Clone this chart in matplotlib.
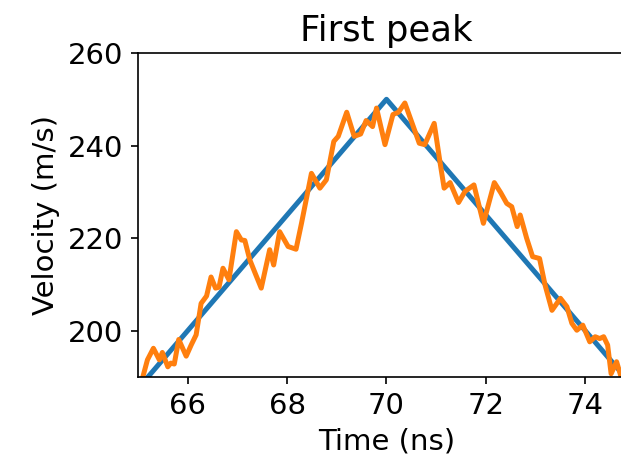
import matplotlib
matplotlib.use("Agg")
import matplotlib.pyplot as plt
import numpy as np

# model: linear ramp up to the peak and back down
peak_time = 70.0
peak_velocity = 250.0
ramp_slope = 12.5  # m/s per ns
model_t = [65.0, peak_time, 75.0]
model_v = [peak_velocity - ramp_slope * abs(t - peak_time) for t in model_t]

# measured trace
meas_t = [65.10, 65.19, 65.31, 65.43, 65.49, 65.60, 65.66, 65.73, 65.82, 65.97,
          66.07, 66.17, 66.27, 66.38, 66.47, 66.56, 66.63, 66.71, 66.83, 66.98,
          67.08, 67.15, 67.25, 67.37, 67.48, 67.65, 67.73, 67.85, 68.02, 68.18,
          68.29, 68.49, 68.66, 68.79, 68.94, 69.03, 69.20, 69.35, 69.48, 69.59,
          69.72, 69.80, 69.97, 70.13, 70.24, 70.37, 70.54, 70.66, 70.77, 70.96,
          71.08, 71.16, 71.28, 71.45, 71.58, 71.76, 71.95, 72.17, 72.30, 72.42,
          72.52, 72.63, 72.69, 72.82, 72.94, 73.08, 73.19, 73.33, 73.50, 73.63,
          73.73, 73.83, 73.95, 74.09, 74.20, 74.29, 74.37, 74.45, 74.52, 74.63,
          74.71, 74.80]
meas_v = [190.1, 193.7, 196.2, 193.7, 195.3, 192.2, 193.0, 192.8, 198.1, 194.5,
          196.9, 199.1, 205.9, 207.5, 211.6, 209.2, 209.4, 213.5, 211.0, 221.4,
          219.6, 219.5, 215.3, 212.1, 209.2, 217.5, 214.2, 221.4, 218.2, 217.6,
          223.2, 234.0, 230.8, 232.6, 240.9, 242.0, 247.2, 242.0, 242.5, 245.4,
          244.1, 248.1, 240.2, 246.7, 247.2, 249.2, 244.1, 240.5, 240.2, 244.8,
          236.2, 230.8, 232.0, 227.7, 230.1, 231.5, 223.2, 232.0, 229.8, 227.5,
          226.8, 222.5, 225.0, 220.0, 216.0, 215.6, 209.9, 204.4, 207.0, 205.2,
          201.6, 200.1, 201.2, 197.6, 198.7, 198.3, 198.7, 196.9, 190.7, 193.3,
          190.4, 189.0]

x_ticks = [66, 68, 70, 72, 74]
y_ticks = [200, 220, 240, 260]

fig = plt.figure(figsize=(4.14, 3.1467), dpi=150)
ax = fig.add_axes([0.2222, 0.2013, 0.8003, 0.6864])

ax.plot(model_t, model_v, color="C0", linewidth=2.4)
ax.plot(meas_t, meas_v, color="C1", linewidth=2.4, solid_joinstyle="round")

ax.set_xlim(65, 75)
ax.set_ylim(190, 260)
ax.set_xticks(x_ticks)
ax.set_yticks(y_ticks)
ax.tick_params(labelsize=14)
ax.set_xlabel("Time (ns)", fontsize=14)
ax.set_ylabel("Velocity (m/s)", fontsize=14)
ax.set_title("First peak", fontsize=17)

fig.savefig("out.png", dpi=150)
plt.close(fig)
